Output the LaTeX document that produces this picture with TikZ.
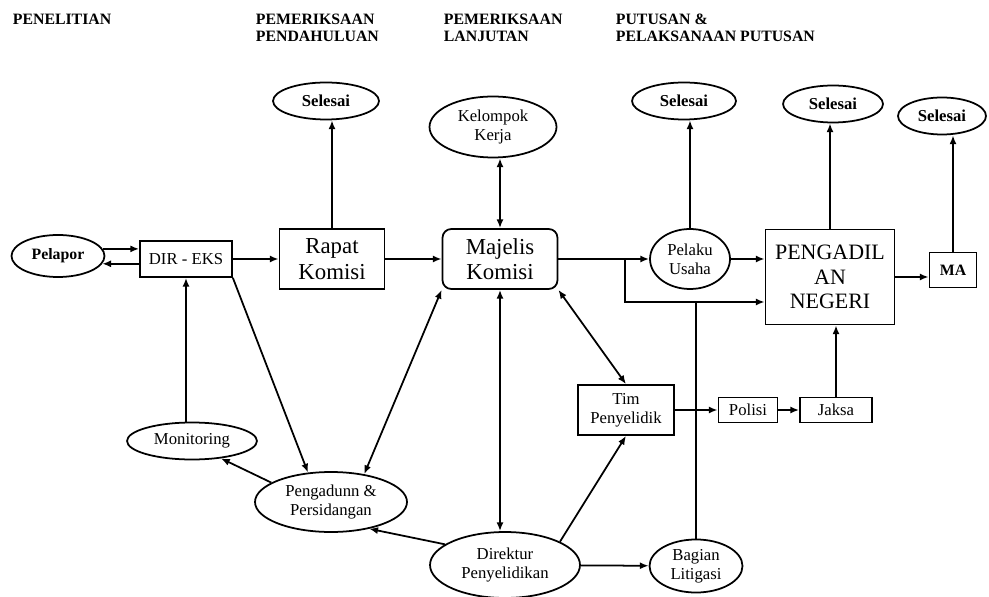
\documentclass[tikz,border=0pt]{standalone}
\usepackage{fontspec}
\setmainfont{Liberation Serif}
\usetikzlibrary{arrows.meta,shapes.geometric}

\begin{document}
\begin{tikzpicture}[x=0.02cm, y=-0.02cm, line width=1pt, >={Latex[length=5pt,width=4pt]},
	every node/.style={align=center, inner sep=1pt},
	oval/.style={draw, ellipse, font=\fontsize{9.5}{11}\selectfont},
	box/.style={draw, rectangle, font=\fontsize{9.5}{11}\selectfont},
	bigbox/.style={draw, rectangle, font=\fontsize{13}{14.5}\selectfont},
	done/.style={draw, ellipse, minimum height=.74cm, font=\fontsize{9.5}{10}\selectfont\bfseries},
	head/.style={anchor=north west, align=left, inner sep=0, font=\fontsize{9}{10}\selectfont\bfseries}]
	\useasboundingbox (0,0) rectangle (989,597);
	\node[head] (stageA) at (12,13) {PENELITIAN};
	\node[head] (stageB) at (255,13) {PEMERIKSAAN\\PENDAHULUAN};
	\node[head] (stageC) at (443,13) {PEMERIKSAAN\\LANJUTAN};
	\node[head] (stageD) at (615,13) {PUTUSAN \&\\PELAKSANAAN PUTUSAN};
	\node[oval, minimum width=1.86cm, minimum height=.84cm, font=\fontsize{9}{10}\selectfont\bfseries] (pelapor) at (58,256) {Pelapor};
	\node[box, minimum width=1.84cm, minimum height=.72cm] (direks) at (186,259) {DIR - EKS};
	\node[bigbox, minimum width=2.1cm, minimum height=1.2cm] (rapat) at (332,259) {Rapat\\Komisi};
	\node[done, minimum width=2.12cm] (selA) at (326,101) {Selesai};
	\node[oval, minimum width=2.54cm, minimum height=1.22cm] (kelompok) at (493,127) {Kelompok\\Kerja};
	\node[bigbox, rounded corners=5pt, minimum width=2.3cm, minimum height=1.2cm] (majelis) at (500,259) {Majelis\\Komisi};
	\node[oval, minimum width=1.6cm, minimum height=1.2cm] (pelaku) at (690,259) {Pelaku\\Usaha};
	\node[done, minimum width=2.08cm] (selB) at (684,101) {Selesai};
	\node[draw, rectangle, minimum width=2.58cm, minimum height=1.9cm, font=\fontsize{12.5}{14}\selectfont] (pn) at (830,277) {PENGADIL\\AN\\NEGERI};
	\node[done, minimum width=2cm] (selC) at (833,104) {Selesai};
	\node[box, minimum width=.94cm, minimum height=.7cm, font=\fontsize{9}{10}\selectfont\bfseries] (ma) at (953,270) {MA};
	\node[done, minimum width=1.76cm] (selD) at (942,116) {Selesai};
	\node[box, minimum width=1.92cm, minimum height=1cm] (tim) at (626,410) {Tim\\Penyelidik};
	\node[box, minimum width=1.18cm, minimum height=.5cm] (polisi) at (748,410) {Polisi};
	\node[box, minimum width=1.44cm, minimum height=.5cm] (jaksa) at (836,410) {Jaksa};
	\node[oval, minimum width=2.6cm, minimum height=.74cm] (monitoring) at (192,441) {Monitoring};
	\node[oval, minimum width=3.04cm, minimum height=1.2cm] (pengadunn) at (331,502) {Pengadunn \&\\Persidangan};
	\node[oval, minimum width=3cm, minimum height=1.32cm] (direktur) at (505,565) {Direktur\\Penyelidikan};
	\node[oval, minimum width=1.86cm, minimum height=1.06cm] (bagian) at (696,566) {Bagian\\Litigasi};
	\coordinate (split) at (625,259);
	\coordinate (pnin) at (pn.west |- 0,302);
	\draw[->] (pelapor.9) -- (pelapor.9 -| direks.west);
	\draw[->] (direks.west |- pelapor.-10) -- (pelapor.-10);
	\draw[->] (direks) -- (rapat);
	\draw[->] (rapat.north) -- (rapat.north |- selA.south);
	\draw[->] (rapat) -- (majelis);
	\draw[<->] (majelis.north) -- (majelis.north |- kelompok.south);
	\draw[->] (majelis) -- (pelaku);
	\draw[->] (split) |- (pnin);
	\draw[->] (pelaku.north) -- (pelaku.north |- selB.south);
	\draw[->] (pelaku.east) -- (pelaku.east -| pn.west);
	\draw[->] (pn.north) -- (pn.north |- selC.south);
	\draw[->] (pn.east) -- (pn.east -| ma.west);
	\draw[->] (ma.north) -- (ma.north |- selD.south);
	\draw[->] (direks.south |- monitoring.north) -- (direks.south);
	\draw[->] (direks.south east) -- (pengadunn.128);
	\draw[<->] (majelis.south west) -- (pengadunn.40);
	\draw[<->] (majelis.south) -- (majelis.south |- direktur.north);
	\draw[<->] (majelis.south east) -- (tim.north);
	\draw[->] (pengadunn.162) -- (monitoring.-31);
	\draw[->] (direktur.161) -- (pengadunn.-35);
	\draw[->] (direktur.23) -- (tim.south);
	\draw[->] (direktur) -- (bagian);
	\draw (bagian.north) -- (bagian.north |- pnin);
	\draw[->] (tim) -- (polisi);
	\draw[->] (polisi) -- (jaksa);
	\draw[->] (jaksa.north) -- (jaksa.north |- pn.south);
\end{tikzpicture}
\end{document}
